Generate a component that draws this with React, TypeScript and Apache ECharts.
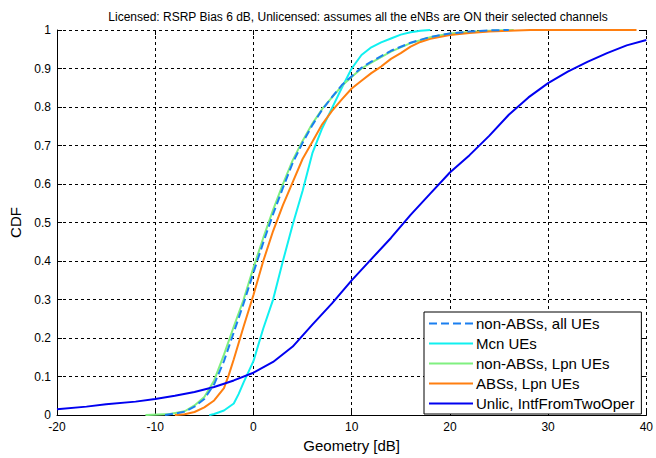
import React, { useEffect, useRef } from "react";
import * as echarts from "echarts";

const titleText =
  "Licensed: RSRP Bias 6 dB, Unlicensed: assumes all the eNBs are ON their selected channels";

const seriesNames = [
  "non-ABSs, all UEs",
  "Mcn UEs",
  "non-ABSs, Lpn UEs",
  "ABSs, Lpn UEs",
  "Unlic, IntfFromTwoOper",
];

const nonAbsAll: [number, number][] = [
  [-9, 0], [-8, 0.004], [-7, 0.009], [-6, 0.022], [-5, 0.042], [-4, 0.08], [-3, 0.14],
  [-2, 0.215], [-1, 0.29], [0, 0.37], [1, 0.448], [2, 0.522], [3, 0.59], [4, 0.655],
  [5, 0.707], [6, 0.753], [7, 0.793], [8, 0.826], [9, 0.857], [10, 0.88], [11, 0.902],
  [12, 0.918], [14, 0.946], [16, 0.967], [18, 0.982], [20, 0.991], [22, 0.996],
  [24, 0.999], [26, 1],
];

const mcn: [number, number][] = [
  [-4.5, 0], [-4, 0.003], [-3, 0.012], [-2, 0.03], [-1.5, 0.055], [-1, 0.085], [0, 0.14],
  [1, 0.225], [2, 0.3], [3, 0.4], [4, 0.495], [5, 0.582], [6, 0.68], [7, 0.745],
  [8, 0.797], [9, 0.85], [10, 0.9], [11, 0.935], [12, 0.955], [13, 0.968], [14, 0.978],
  [15, 0.988], [16, 0.994], [17, 0.998], [18, 1],
];

const nonAbsLpn: [number, number][] = [
  [-11, 0], [-8.5, 0.003], [-7, 0.01], [-6, 0.025], [-5, 0.047], [-4, 0.09], [-3, 0.157],
  [-2, 0.23], [-1, 0.3], [0, 0.383], [1, 0.46], [2, 0.533], [3, 0.6], [4, 0.662],
  [5, 0.712], [6, 0.757], [7, 0.795], [8, 0.825], [9, 0.855], [10, 0.878], [11, 0.9],
  [12, 0.915], [14, 0.944], [16, 0.966], [18, 0.981], [20, 0.991], [22, 0.995],
  [24, 0.998], [26.5, 1],
];

const absLpn: [number, number][] = [
  [-8, 0], [-7, 0.002], [-6, 0.008], [-5, 0.02], [-4, 0.038], [-3, 0.07], [-2.5, 0.105],
  [-2, 0.145], [-1, 0.23], [0, 0.312], [1, 0.4], [2, 0.478], [3, 0.545], [4, 0.605],
  [5, 0.665], [6, 0.71], [7, 0.755], [8, 0.79], [9, 0.82], [10, 0.848], [11, 0.868],
  [12, 0.888], [13, 0.905], [14, 0.925], [15, 0.94], [16, 0.957], [17, 0.969],
  [18, 0.977], [20, 0.987], [22, 0.992], [24, 0.996], [26, 0.998], [28.2, 1], [39, 1],
];

const unlic: [number, number][] = [
  [-20, 0.015], [-17, 0.022], [-15, 0.028], [-12, 0.035], [-10, 0.042], [-8, 0.05],
  [-6, 0.06], [-4, 0.073], [-2, 0.09], [0, 0.11], [2, 0.138], [4, 0.178], [6, 0.235],
  [8, 0.29], [10, 0.35], [12, 0.405], [14, 0.46], [16, 0.52], [18, 0.575], [20, 0.63],
  [22, 0.675], [24, 0.725], [26, 0.78], [28, 0.825], [30, 0.862], [32, 0.892],
  [34, 0.917], [36, 0.94], [38, 0.96], [40, 0.974],
];

const seriesData = [nonAbsAll, mcn, nonAbsLpn, absLpn, unlic];
const seriesColors = ["#1a7ff0", "#10f0f0", "#80f080", "#ff7f10", "#0000f0"];
const seriesDash = ["dashed", "solid", "solid", "solid", "solid"];

const FONT = "Liberation Sans, Arial, sans-serif";

export default function App() {
  const ref = useRef<HTMLDivElement>(null);
  useEffect(() => {
    if (!ref.current) return;
    const chart = echarts.init(ref.current, undefined, { renderer: "svg" });
    const gridLine = { show: true, lineStyle: { color: "#000", type: [3, 3] as any, width: 1 } };
    const tick = { show: true, inside: true, length: 5, lineStyle: { color: "#000" } };
    chart.setOption({
      animation: false,
      backgroundColor: "#fff",
      textStyle: { fontFamily: FONT },
      title: {
        text: titleText,
        left: 353,
        textAlign: "center",
        top: 6,
        textStyle: { fontSize: 12, fontWeight: "normal", color: "#000", fontFamily: FONT },
      },
      grid: { left: 57, right: 6, top: 30, bottom: 37 },
      xAxis: [
        {
          type: "value",
          min: -20,
          max: 40,
          interval: 10,
          name: "Geometry [dB]",
          nameLocation: "middle",
          nameGap: 17,
          nameTextStyle: { fontSize: 15, color: "#000", fontFamily: FONT },
          axisLine: { show: true, onZero: false, lineStyle: { color: "#000", width: 1 } },
          axisTick: tick,
          axisLabel: { color: "#000", fontSize: 12, margin: 6, fontFamily: FONT },
          splitLine: gridLine,
        },
        {
          type: "value",
          position: "top",
          min: -20,
          max: 40,
          interval: 10,
          axisLine: { show: false, onZero: false },
          axisTick: tick,
          axisLabel: { show: false },
          splitLine: { show: false },
        },
      ],
      yAxis: [
        {
          type: "value",
          min: 0,
          max: 1,
          interval: 0.1,
          name: "CDF",
          nameLocation: "middle",
          nameGap: 29,
          nameTextStyle: { fontSize: 15, color: "#000", fontFamily: FONT },
          axisLine: { show: true, onZero: false, lineStyle: { color: "#000", width: 1 } },
          axisTick: tick,
          axisLabel: { color: "#000", fontSize: 12, margin: 6, fontFamily: FONT },
          splitLine: gridLine,
        },
        {
          type: "value",
          position: "right",
          min: 0,
          max: 1,
          interval: 0.1,
          axisLine: { show: false, onZero: false },
          axisTick: tick,
          axisLabel: { show: false },
          splitLine: { show: false },
        },
      ],
      legend: {
        data: seriesNames,
        orient: "vertical",
        left: 424,
        top: 312,
        backgroundColor: "#fff",
        borderColor: "#000",
        borderWidth: 1,
        borderRadius: 0,
        padding: [4, 7, 3, 4],
        itemGap: 5,
        itemWidth: 44,
        itemHeight: 14,
        itemStyle: { opacity: 0 },
        textStyle: {
          fontSize: 15,
          lineHeight: 15,
          color: "#000",
          fontFamily: FONT,
          padding: [0, 0, 0, -2],
        },
      },
      series: seriesNames.map((name, i) => ({
        name,
        type: "line",
        xAxisIndex: 0,
        yAxisIndex: 0,
        data: seriesData[i],
        showSymbol: false,
        symbol: "none",
        smooth: false,
        z: i === 0 ? 10 : 5,
        lineStyle: { color: seriesColors[i], width: 2, type: seriesDash[i] },
        itemStyle: { color: seriesColors[i] },
      })),
    });
    return () => chart.dispose();
  }, []);
  return (
    <div
      ref={ref}
      style={{ position: "absolute", left: 0, top: 0, width: 656, height: 458 }}
    />
  );
}
